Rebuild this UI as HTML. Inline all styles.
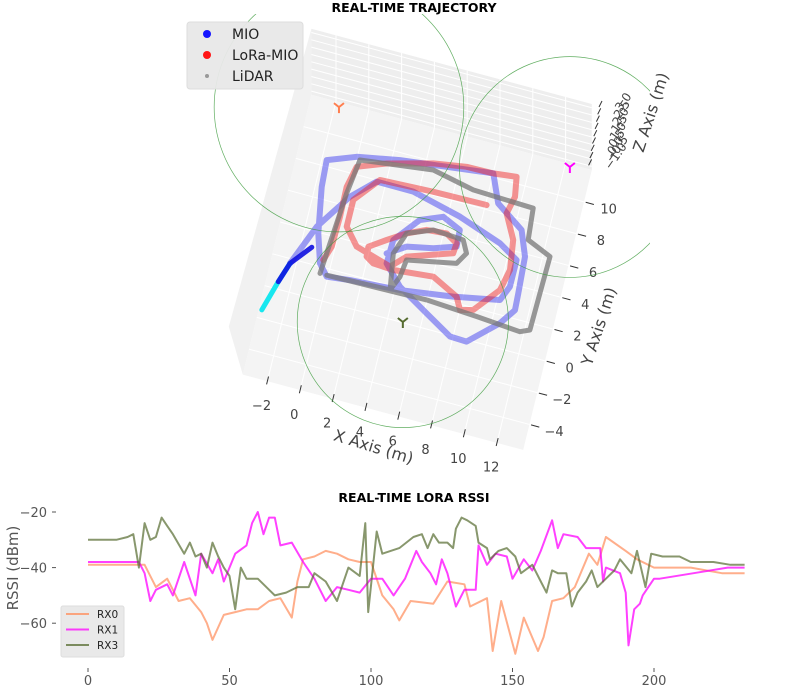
<!DOCTYPE html>
<html><head><meta charset="utf-8"><style>
html,body{margin:0;padding:0;background:#fff;width:800px;height:700px;overflow:hidden}
svg{display:block;font-family:"DejaVu Sans","Liberation Sans",sans-serif}
</style></head><body>
<svg id="fig" width="800" height="700" viewBox="0 0 800 700">
<defs><clipPath id="clip3d"><rect x="0" y="14" width="650" height="470"/></clipPath></defs>
<text x="414" y="12" text-anchor="middle" font-size="12.5" font-weight="bold" fill="#000">REAL-TIME TRAJECTORY</text>
<g id="ax3d"></g>
<text x="414" y="502" text-anchor="middle" font-size="12.5" font-weight="bold" fill="#000">REAL-TIME LORA RSSI</text>
<g id="ax2d"></g>
</svg>
<script>
// ===== 3D trajectory data (meters) =====
const cyanX=[-3.32,-2.77,-2.36];
const cyanY=[-1.48,0.45,1.71];
const mioX=[-2.36,-1.34,0.14,1.45,3.69,6.71,9.37,10.56,10.55,10.17,7.45,4.31,1.31,-0.07,-0.64,-1.16,-1.62,-1.71,-0.04,2.48,8.01,8.71,10.42,10.99,11.12,11.17,10.49,8.84,7.82,6.15,4.26,3.17,3.22,4.46,5.76,6.89,6.94,5.63,4.08,3.03];
const mioY=[1.71,4.31,6.60,7.91,7.90,7.16,6.22,5.50,3.82,2.88,2.34,1.88,1.68,1.51,2.19,3.93,6.73,8.39,9.06,9.55,10.24,8.55,7.35,5.83,3.56,2.52,1.50,-0.11,-0.07,0.93,2.08,3.24,4.73,6.33,6.89,6.37,5.34,4.87,4.55,3.83];
const loraX=[-0.50,-0.21,-0.15,-0.19,0.10,1.77,4.44,6.39,8.01,9.39,9.58,9.33,10.08,10.32,10.03,8.78,8.02,7.64,6.03,3.65,2.41,1.93,1.89,2.84,3.89,4.98,6.18,6.89,6.84,4.22,3.41,1.22,0.37,0.37,1.62,4.84,8.07];
const loraY=[2.44,3.36,5.25,7.13,8.47,9.14,9.88,10.21,10.24,10.41,9.20,8.09,6.63,4.81,3.47,1.87,1.65,2.39,3.20,2.96,3.03,3.33,3.94,4.62,5.33,5.85,5.96,5.53,4.89,3.96,3.11,3.76,4.78,6.46,8.06,8.21,8.27];
const lidarX=[-0.50,-0.30,-0.10,0.19,4.53,7.09,10.78,10.94,12.42,12.36,12.30,11.75,9.06,5.97,3.55,-0.09,3.74,3.41,3.89,5.37,7.22,7.60,7.17,4.26,4.12,3.74];
const lidarY=[1.60,4.17,6.74,8.92,9.49,8.95,8.82,6.87,6.23,3.90,1.58,1.32,1.53,1.72,1.67,1.60,1.73,3.94,5.33,5.95,5.84,5.10,4.35,3.76,2.67,1.73];
const anchorX=[-1.75,12.30,4.92];
const anchorY=[11.71,11.83,0.04];
const anchorR=[7.8,6.9,6.6];
const anchorColors=['#ff7f50','#ff00ff','#556b2f'];
const xTicks=[-2,0,2,4,6,8,10,12];
const yTicks=[-4,-2,0,2,4,6,8,10];
const zTicks=['3.0','2.5','2.0','1.5','1.0','0.5','0.0','-0.5','-1.0'];

// ===== RSSI data =====
const rx0X=[0,16,20,24,28,32,36,40,42,44,48,52,56,60,64,68,72,74,76,80,84,88,92,96,100,104,108,110,114,122,127,133,135,141,143,146,151,154,159,161,164,168,172,177,180,183,190,194,200,213,224,232];
const rx0Y=[-39,-39,-39,-47,-44,-52,-51,-56,-60,-66,-57,-56,-55,-55,-52,-51,-58,-45,-37,-36,-34,-35,-37,-38,-38,-50,-55,-59,-52,-53,-45,-46,-54,-51,-70,-52,-71,-58,-70,-65,-52,-51,-47,-35,-39,-29,-34,-37,-40,-40,-42,-42];
const rx1X=[0,18,20,22,24,28,30,34,38,40,44,46,48,52,56,58,60,62,64,66,68,72,76,80,84,88,92,96,100,104,108,112,116,118,121,123,125,127,130,133,137,138,141,144,148,150,154,157,160,164,166,168,173,176,181,182,183,188,190,191,193,195,196,200,202,214,226,232];
const rx1Y=[-38,-38,-42,-52,-48,-46,-50,-38,-50,-35,-42,-37,-45,-35,-32,-24,-20,-28,-22,-22,-32,-31,-38,-44,-52,-47,-48,-49,-44,-44,-50,-44,-34,-38,-42,-46,-37,-42,-54,-48,-48,-32,-39,-35,-36,-44,-37,-41,-34,-23,-33,-28,-29,-33,-33,-45,-40,-42,-49,-68,-55,-53,-50,-44,-44,-42,-40,-40];
const rx3X=[0,10,14,16,18,20,22,24,26,28,30,34,36,38,40,42,44,46,48,50,52,54,56,60,64,66,70,74,78,80,84,88,92,96,98,99,102,104,110,115,118,120,122,124,127,129,130,132,134,137,138,141,142,145,148,151,153,157,160,162,164,166,169,171,173,176,178,180,183,186,188,192,194,197,199,203,209,213,221,227,232];
const rx3Y=[-30,-30,-29,-28,-40,-24,-30,-29,-22,-25,-28,-35,-31,-36,-35,-40,-31,-36,-40,-43,-55,-40,-44,-44,-48,-50,-49,-47,-47,-42,-45,-52,-40,-43,-24,-56,-27,-35,-33,-29,-28,-33,-28,-31,-31,-33,-26,-22,-23,-25,-31,-33,-37,-34,-33,-36,-42,-39,-45,-49,-41,-42,-42,-54,-49,-45,-41,-47,-44,-41,-37,-42,-34,-47,-35,-36,-36,-38,-38,-39,-39];
const rssiSeriesNames=['RX0','RX1','RX3'];
const rssiColors=['#ff8c5a','#ff00ff','#556b2f'];
const xTickVals=[0,50,100,150,200];
const yTickVals=[-20,-40,-60];

const NS='http://www.w3.org/2000/svg';
function mk(tag,attrs,parent){const e=document.createElementNS(NS,tag);for(const k in attrs)e.setAttribute(k,attrs[k]);parent.appendChild(e);return e;}

// ---------- 3D projection ----------
const O=[322,301], ux=[16.4,4.4], uy=[3.9,-15.9];
function P(X,Y){return [O[0]+X*ux[0]+Y*uy[0], O[1]+X*ux[1]+Y*uy[1]];}
const g3=document.getElementById('ax3d');
const X0=-3.5,X1=13.6,Y0=-5.6,Y1=12,WH=66;
function pts(a){return a.map(p=>p[0].toFixed(1)+','+p[1].toFixed(1)).join(' ');}
const lw=mk('polygon',{points:pts([[P(X0,Y1)[0],P(X0,Y1)[1]-WH],P(X0,Y1),P(X0,Y0),[P(X0,Y0)[0]-14,P(X0,Y0)[1]-48]]),fill:'#f1f1f1'},g3);


const bw=mk('polygon',{points:pts([[P(X0,Y1)[0],P(X0,Y1)[1]-WH],[P(X1,Y1)[0],P(X1,Y1)[1]-WH],P(X1,Y1),P(X0,Y1)]),fill:'#eeeeee'},g3);


const fl=mk('polygon',{points:pts([P(X0,Y0),P(X1,Y0),P(X1,Y1),P(X0,Y1)]),fill:'#f4f4f4'},g3);


xTicks.forEach(t=>{const a=P(t,Y0),b=P(t,Y1);mk('line',{x1:a[0],y1:a[1],x2:b[0],y2:b[1],stroke:'#fff','stroke-width':1},g3);mk('line',{x1:b[0],y1:b[1],x2:b[0],y2:b[1]-WH,stroke:'#fff','stroke-width':1},g3);});
yTicks.forEach(t=>{const a=P(X0,t),b=P(X1,t);mk('line',{x1:a[0],y1:a[1],x2:b[0],y2:b[1],stroke:'#fff','stroke-width':1},g3);});
for(let i=0;i<9;i++){const f=WH*(i+0.5)/9;const a=P(X0,Y1),b=P(X1,Y1);mk('line',{x1:a[0],y1:a[1]-f,x2:b[0],y2:b[1]-f,stroke:'#fff','stroke-width':1},g3);}
xTicks.forEach(t=>{const a=P(t,-5.3),b=P(t,-5.8),l=P(t,-7.1);
 mk('line',{x1:a[0],y1:a[1],x2:b[0],y2:b[1],stroke:'#333','stroke-width':1},g3);
 const tx=mk('text',{x:l[0],y:l[1]+5,'text-anchor':'middle','font-size':13,fill:'#444'},g3);tx.textContent=(t<0?'\u2212':'')+Math.abs(t);
 
 });
yTicks.forEach(t=>{const a=P(13.7,t),b=P(14.2,t),l=P(15.1,t);
 mk('line',{x1:a[0],y1:a[1],x2:b[0],y2:b[1],stroke:'#333','stroke-width':1},g3);
 const tx=mk('text',{x:l[0],y:l[1]+5,'text-anchor':'middle','font-size':13,fill:'#444'},g3);tx.textContent=(t<0?'\u2212':'')+Math.abs(t);
 
 });
zTicks.forEach((t,i)=>{const tx0=611-i*1.3,ty0=104+i*7.3;
 mk('line',{x1:tx0-12,y1:ty0+3,x2:tx0-9,y2:ty0-3,stroke:'#333','stroke-width':1},g3);
 const x=tx0+10,y=ty0+8;
 const tx=mk('text',{x:x,y:y,'font-size':12,fill:'#444',transform:'rotate(-55 '+x+' '+y+')'},g3);tx.textContent=t.replace('-','\u2212');
 
 });
[['X Axis (m)',372,452,17,'x-axis-title'],['Y Axis (m)',604,328,-72,'y-axis-title'],['Z Axis (m)',656,114,-72,'z-axis-title']].forEach(d=>{
 const tx=mk('text',{x:d[1],y:d[2],'text-anchor':'middle','font-size':16,fill:'#444',transform:'rotate('+d[3]+' '+d[1]+' '+d[2]+')'},g3);tx.textContent=d[0];
 
 });
const tg=mk('g',{'clip-path':'url(#clip3d)'},g3);
function path3(xs,ys,color,w,op,name){const p=mk('polyline',{points:pts(xs.map((x,i)=>P(x,ys[i]))),fill:'none',stroke:color,'stroke-width':w,'stroke-opacity':op,'stroke-linejoin':'round','stroke-linecap':'round'},tg);
 
 return p;}
path3(mioX,mioY,'#4040f0',6,0.5,'mio-trajectory');
path3(loraX,loraY,'#f01818',6,0.45,'lora-mio-trajectory');
path3(lidarX,lidarY,'#777',5,0.75,'lidar-trajectory');
path3(cyanX,cyanY,'#00e5ee',5,0.9,'mio-start-segment');
path3(cyanX.slice(1).concat(mioX.slice(1,2)),cyanY.slice(1).concat(mioY.slice(1,2)).map((v,i)=>i==2?(cyanY[2]+mioY[1])/2:v),'#1010e0',5,0.9,'mio-current-segment');
anchorX.forEach((x,i)=>{const c=P(x,anchorY[i]);
 const ci=mk('circle',{cx:c[0],cy:c[1],r:anchorR[i]*16,fill:'none',stroke:'#3a9a3a','stroke-width':0.7,'stroke-opacity':0.8},tg);
 
 
 const m=mk('path',{d:`M${c[0]},${c[1]} L${c[0]-5},${c[1]-4} M${c[0]},${c[1]} L${c[0]+5},${c[1]-4} M${c[0]},${c[1]} L${c[0]},${c[1]+6}`,stroke:anchorColors[i],'stroke-width':2,fill:'none'},tg);
 
 });
const lg=mk('g',{},g3);


mk('rect',{x:187,y:22,width:116,height:67,rx:3,fill:'#e8e8e8','fill-opacity':0.95,stroke:'#ddd'},lg);
[['MIO','#1515ff',4],['LoRa-MIO','#ff1515',4],['LiDAR','#999',2]].forEach((e,i)=>{const y=33+i*21;
 mk('circle',{cx:207,cy:y+1,r:e[2],fill:e[1]},lg);
 const tx=mk('text',{x:232,y:y+6,'font-size':14,fill:'#222'},lg);tx.textContent=e[0];
 
 });

// ---------- RSSI 2D chart ----------
const g2=document.getElementById('ax2d');
const sx=v=>88+v*2.83, sy=v=>512-(v+20)*2.78;
xTickVals.forEach(t=>{const x=sx(t);mk('line',{x1:x,y1:668,x2:x,y2:672,stroke:'#555'},g2);
 const tx=mk('text',{x:x,y:685,'text-anchor':'middle','font-size':13,fill:'#555'},g2);tx.textContent=t;
 
 });
yTickVals.forEach(t=>{const y=sy(t);mk('line',{x1:52,y1:y,x2:56,y2:y,stroke:'#555'},g2);
 const tx=mk('text',{x:47,y:y+5,'text-anchor':'end','font-size':13,fill:'#555'},g2);tx.textContent='\u2212'+Math.abs(t);
 
 });
const yl=mk('text',{x:18,y:568,'text-anchor':'middle','font-size':15,fill:'#555',transform:'rotate(-90 18 568)'},g2);yl.textContent='RSSI (dBm)';


const seriesX=[rx0X,rx1X,rx3X], seriesY=[rx0Y,rx1Y,rx3Y];
seriesX.forEach((xs,s)=>{const p=mk('polyline',{points:xs.map((x,i)=>sx(x).toFixed(1)+','+sy(seriesY[s][i]).toFixed(1)).join(' '),fill:'none',stroke:rssiColors[s],'stroke-width':2,'stroke-opacity':s==1?0.75:0.7,'stroke-linejoin':'round'},g2);
 
 });
const lg2=mk('g',{},g2);


mk('rect',{x:61,y:606,width:63,height:51,rx:2,fill:'#e8e8e8','fill-opacity':0.95,stroke:'#ddd'},lg2);
rssiSeriesNames.forEach((n,i)=>{const y=614+i*15.5;
 mk('line',{x1:66,y1:y,x2:89,y2:y,stroke:rssiColors[i],'stroke-width':2,'stroke-opacity':0.75},lg2);
 const tx=mk('text',{x:97,y:y+4,'font-size':10.5,fill:'#222'},lg2);tx.textContent=n;
 
 });
</script>
</body></html>
